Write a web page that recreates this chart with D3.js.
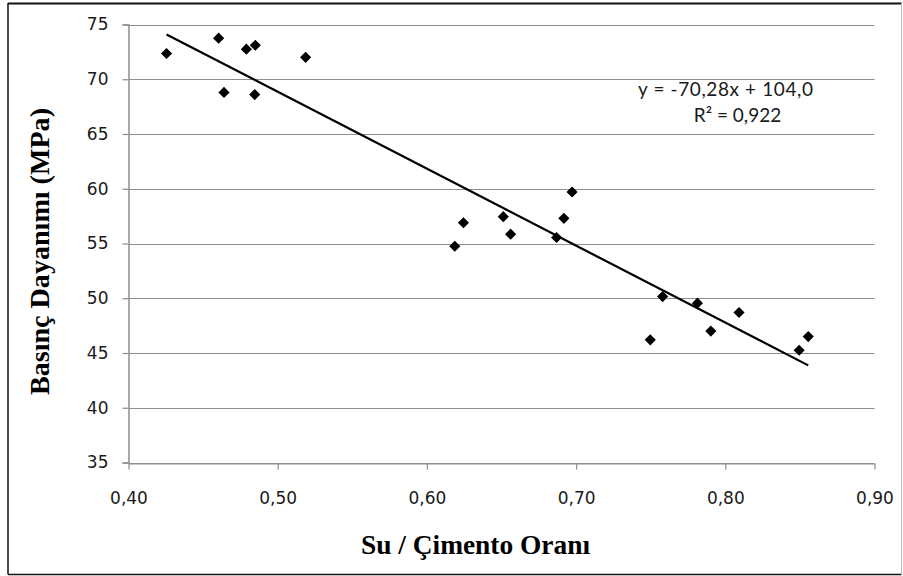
<!DOCTYPE html>
<html>
<head>
<meta charset="utf-8">
<script src="https://cdn.jsdelivr.net/npm/d3@7"></script>
<style>
  body { margin: 0; background: #fff; }
  svg { display: block; }
  .tick text { font-family: "DejaVu Sans", sans-serif; font-size: 17px; fill: #1a1a1a; }
  .axis-title { font-family: "Liberation Serif", "DejaVu Serif", serif; font-weight: bold; font-size: 27px; fill: #000; }
  .eq { font-family: Lato, "Open Sans", sans-serif; font-size: 19px; fill: #1a1a1a; }
</style>
</head>
<body>
<svg id="chart"></svg>
<script>
// water / cement ratio
const ratio = [0.4255, 0.4604, 0.4640, 0.4790, 0.4850, 0.4846, 0.5187,
  0.6187, 0.6245, 0.6512, 0.6561, 0.6869, 0.6918, 0.6973,
  0.7497, 0.7580, 0.7813, 0.7903, 0.8092, 0.8495, 0.8556];
// compressive strength (MPa)
const strength = [72.35, 73.75, 68.8, 72.75, 73.1, 68.6, 72.0,
  54.75, 56.9, 57.45, 55.85, 55.55, 57.3, 59.7,
  46.2, 50.15, 49.55, 47.0, 48.7, 45.25, 46.5];
const xTicks = [0.40, 0.50, 0.60, 0.70, 0.80, 0.90];
const yTicks = [35, 40, 45, 50, 55, 60, 65, 70, 75];
const slope = -70.28;
const intercept = 104.0;
const eqText = "y = -70,28x + 104,0";
const r2Text = "R² = 0,922";

const width = 903;
const height = 576;
const margin = {top: 24.5, right: 28.5, bottom: 113.5, left: 128.5};

const svg = d3.select('#chart')
  .attr('width', width)
  .attr('height', height);

// outer frame
svg.append('line').attr('x1', 8).attr('x2', 8).attr('y1', 3).attr('y2', 574.5)
  .attr('stroke', '#111').attr('stroke-width', 1.5);
svg.append('line').attr('x1', 8).attr('x2', 902).attr('y1', 3.5).attr('y2', 3.5)
  .attr('stroke', '#111').attr('stroke-width', 2);
svg.append('line').attr('x1', 8).attr('x2', 902).attr('y1', 574.5).attr('y2', 574.5)
  .attr('stroke', '#111').attr('stroke-width', 1.5);
svg.append('line').attr('x1', 901.5).attr('x2', 901.5).attr('y1', 3).attr('y2', 575)
  .attr('stroke', '#bbb').attr('stroke-width', 1);

const locale = d3.formatLocale({decimal: ',', thousands: '.', grouping: [3], currency: ['', '']});
const fmt2 = locale.format('.2f');

const xScale = d3.scaleLinear()
  .domain([0.40, 0.90])
  .range([margin.left, width - margin.right]);
const yScale = d3.scaleLinear()
  .domain([35, 75])
  .range([height - margin.bottom, margin.top]);

// gridlines
svg.append('g')
  .selectAll('line')
  .data(yTicks)
  .enter().append('line')
  .attr('x1', margin.left)
  .attr('x2', width - margin.right)
  .attr('y1', d => Math.round(yScale(d)) + 0.5)
  .attr('y2', d => Math.round(yScale(d)) + 0.5)
  .attr('stroke', '#8e8e8e')
  .attr('stroke-width', 1.2);

// y axis
const yAxisG = svg.append('g')
  .attr('transform', `translate(${margin.left}, 0)`)
  .call(d3.axisLeft(yScale).tickValues(yTicks).tickSize(6).tickPadding(14));
yAxisG.select('.domain').attr('stroke', '#8e8e8e').attr('stroke-width', 1.5);
yAxisG.selectAll('.tick line').attr('stroke', '#8e8e8e').attr('stroke-width', 1.2);

// x axis
const xAxisG = svg.append('g')
  .attr('transform', `translate(0, ${Math.round(yScale(35)) + 0.5})`)
  .call(d3.axisBottom(xScale).tickValues(xTicks).tickFormat(fmt2).tickSize(6).tickSizeOuter(0).tickPadding(22));
xAxisG.select('.domain').attr('stroke', '#8e8e8e').attr('stroke-width', 1.2);
xAxisG.selectAll('.tick line').attr('stroke', '#8e8e8e').attr('stroke-width', 1.2);

// axis titles
svg.append('text')
  .attr('class', 'axis-title')
  .attr('x', 475.5)
  .attr('y', 554)
  .attr('text-anchor', 'middle')
  .attr('textLength', 229)
  .attr('lengthAdjust', 'spacingAndGlyphs')
  .text('Su / Çimento Oranı');

svg.append('text')
  .attr('class', 'axis-title')
  .attr('transform', `translate(49, 251.5) rotate(-90)`)
  .attr('text-anchor', 'middle')
  .attr('textLength', 287)
  .attr('lengthAdjust', 'spacingAndGlyphs')
  .text('Basınç Dayanımı (MPa)');

// trendline
const points = ratio.map((r, i) => ({x: r, y: strength[i]}));
const xExt = d3.extent(ratio);
svg.append('line')
  .attr('x1', xScale(xExt[0]))
  .attr('y1', yScale(slope * xExt[0] + intercept))
  .attr('x2', xScale(xExt[1]))
  .attr('y2', yScale(slope * xExt[1] + intercept))
  .attr('stroke', '#000')
  .attr('stroke-width', 2.2);

// markers
svg.append('g')
  .selectAll('path')
  .data(points)
  .enter().append('path')
  .attr('d', d3.symbol().type(d3.symbolSquare).size(62))
  .attr('transform', d => `translate(${xScale(d.x)}, ${yScale(d.y)}) rotate(45)`)
  .attr('fill', '#000');

// equation label
svg.append('text')
  .attr('class', 'eq')
  .attr('x', 725.5)
  .attr('y', 96)
  .attr('text-anchor', 'middle')
  .attr('textLength', 175)
  .attr('lengthAdjust', 'spacing')
  .text(eqText);
svg.append('text')
  .attr('class', 'eq')
  .attr('x', 737.5)
  .attr('y', 122)
  .attr('text-anchor', 'middle')
  .text(r2Text);
</script>
</body>
</html>
